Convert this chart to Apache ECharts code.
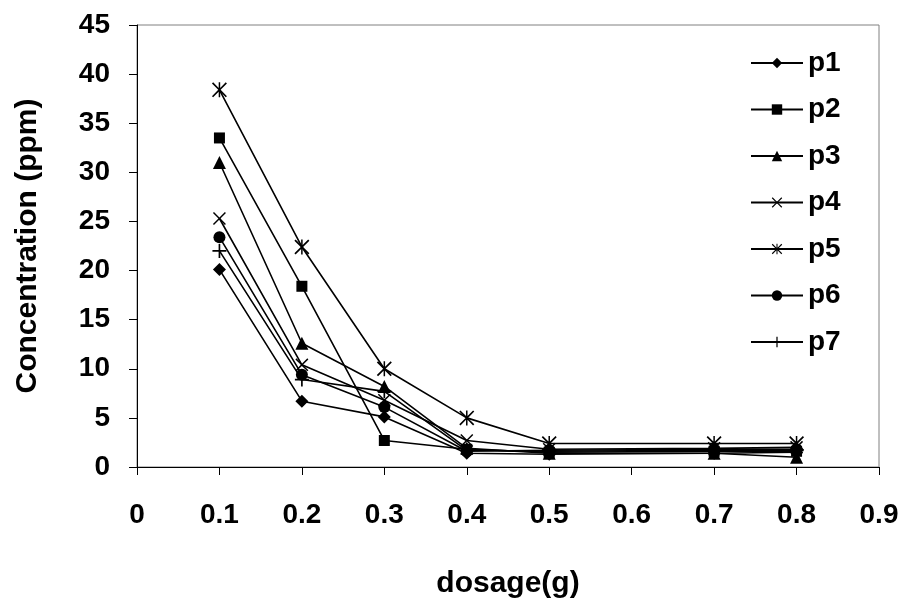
<!DOCTYPE html>
<html>
<head>
<meta charset="utf-8">
<script src="https://cdn.jsdelivr.net/npm/echarts@6/dist/echarts.min.js"></script>
<style>
html,body{margin:0;padding:0;background:#fff;}
#chart{width:903px;height:599px;}
</style>
</head>
<body>
<div id="chart"></div>
<script>
const dosage = [0.1, 0.2, 0.3, 0.4, 0.5, 0.7, 0.8];
const p1 = [20.1, 6.7, 5.1, 1.4, 1.3, 1.4, 1.5];
const p2 = [33.5, 18.4, 2.7, 1.8, 1.5, 1.6, 1.6];
const p3 = [31.0, 12.6, 8.2, 1.9, 1.4, 1.4, 1.0];
const p4 = [25.3, 10.4, 6.8, 2.7, 1.8, 1.9, 2.0];
const p5 = [38.4, 22.4, 10.0, 5.0, 2.4, 2.4, 2.4];
const p6 = [23.4, 9.4, 6.1, 1.6, 1.7, 1.8, 1.8];
const p7 = [22.0, 8.9, 7.7, 1.7, 1.6, 1.7, 1.7];
const seriesNames = ['p1', 'p2', 'p3', 'p4', 'p5', 'p6', 'p7'];
const seriesValues = [p1, p2, p3, p4, p5, p6, p7];

const XPATH = 'path://M0,8 L8,0 L50,42 L92,0 L100,8 L58,50 L100,92 L92,100 L50,58 L8,100 L0,92 L42,50 Z';
const STARPATH = 'path://M0,8 L8,0 L50,42 L92,0 L100,8 L58,50 L100,92 L92,100 L50,58 L8,100 L0,92 L42,50 Z M45,0 L55,0 L55,100 L45,100 Z';
const PLUSPATH = 'path://M44,0 L56,0 L56,44 L100,44 L100,56 L56,56 L56,100 L44,100 L44,56 L0,56 L0,44 L44,44 Z';
const symbols = ['diamond', 'rect', 'triangle', XPATH, STARPATH, 'circle', PLUSPATH];
const sizes = [13, 11, 13, 13, 15, 12, 14];

const font = '"Liberation Sans", Arial, sans-serif';
const chart = echarts.init(document.getElementById('chart'), null, {renderer: 'canvas'});

const series = seriesNames.map((name, i) => ({
  name: name,
  type: 'line',
  data: dosage.map((x, j) => [x, seriesValues[i][j]]),
  symbol: symbols[i],
  symbolSize: sizes[i],
  showAllSymbol: true,
  lineStyle: {color: '#000', width: 1.6},
  itemStyle: {color: '#000', borderWidth: 0},
  emphasis: {disabled: true},
  animation: false,
  z: 3
}));

chart.setOption({
  animation: false,
  backgroundColor: '#fff',
  grid: {left: 137, right: 24, top: 25, bottom: 132, show: true, borderColor: '#808080', borderWidth: 1,
    containLabel: false, outerBoundsMode: 'none'},
  legend: {
    orient: 'vertical',
    left: 750,
    top: 48,
    padding: 0,
    itemWidth: 52,
    itemHeight: 13,
    itemGap: 16.5,
    textStyle: {fontFamily: font, fontWeight: 'bold', fontSize: 28, color: '#000', lineHeight: 30},
    data: seriesNames
  },
  xAxis: {
    type: 'value',
    min: 0, max: 0.9, interval: 0.1,
    name: 'dosage(g)',
    nameLocation: 'middle',
    nameGap: 102,
    nameTextStyle: {fontFamily: font, fontWeight: 'bold', fontSize: 30, color: '#000'},
    axisLine: {show: true, onZero: false, lineStyle: {color: '#000', width: 1}},
    axisTick: {show: true, inside: false, length: 8, lineStyle: {color: '#000'}},
    axisLabel: {fontFamily: font, fontWeight: 'bold', fontSize: 28, color: '#000', margin: 34,
      formatter: v => (Math.round(v * 10) / 10).toString()},
    splitLine: {show: false}
  },
  yAxis: {
    type: 'value',
    min: 0, max: 45, interval: 5,
    name: 'Concentration (ppm)',
    nameLocation: 'middle',
    nameGap: 94,
    nameTextStyle: {fontFamily: font, fontWeight: 'bold', fontSize: 30, color: '#000'},
    axisLine: {show: true, onZero: false, lineStyle: {color: '#000', width: 1}},
    axisTick: {show: true, inside: false, length: 8, lineStyle: {color: '#000'}},
    axisLabel: {fontFamily: font, fontWeight: 'bold', fontSize: 28, color: '#000', margin: 27},
    splitLine: {show: false}
  },
  series: series
});
</script>
</body>
</html>
